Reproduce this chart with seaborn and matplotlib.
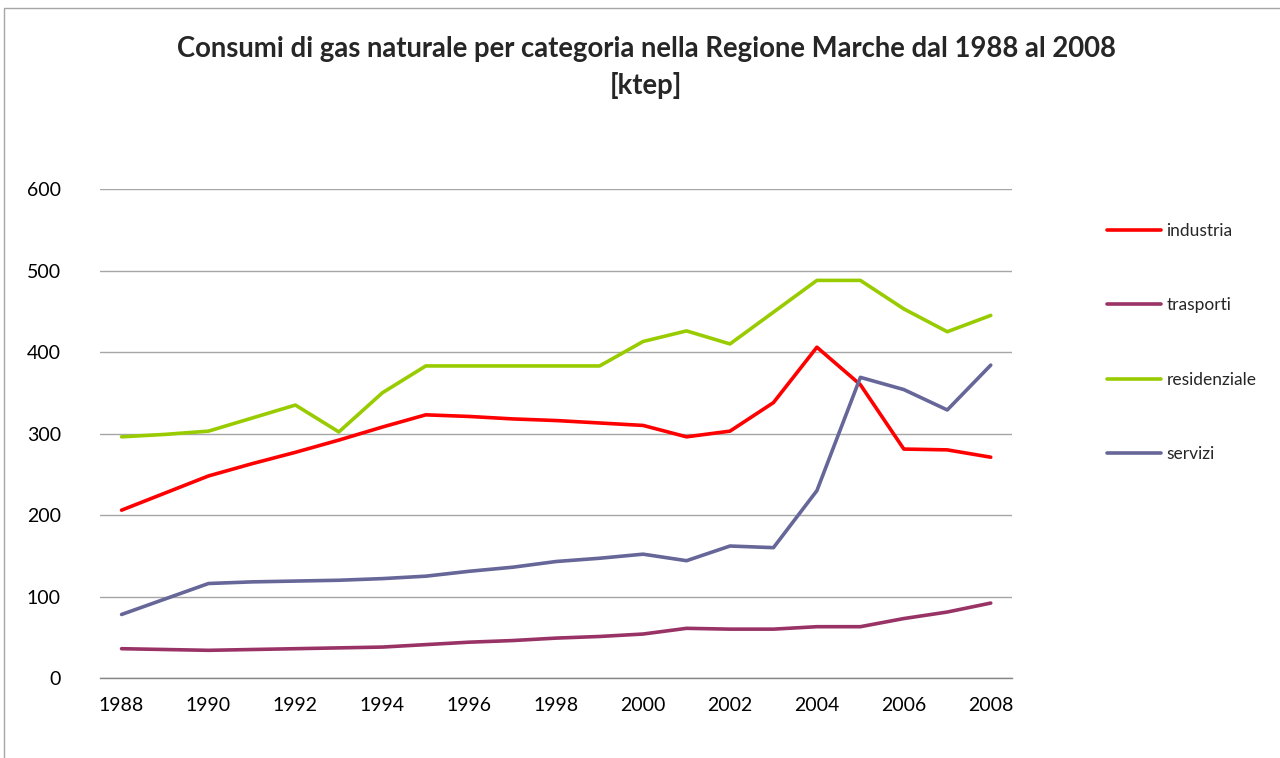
import pandas as pd
import matplotlib.pyplot as plt
import seaborn as sns
from matplotlib.patches import Rectangle

anni = list(range(1988, 2009))
industria = [206, 227, 248, 263, 277, 292, 308, 323, 321, 318, 316, 313, 310, 296, 303, 338, 406, 360, 281, 280, 271]
trasporti = [36, 35, 34, 35, 36, 37, 38, 41, 44, 46, 49, 51, 54, 61, 60, 60, 63, 63, 73, 81, 92]
residenziale = [296, 299, 303, 319, 335, 302, 350, 383, 383, 383, 383, 383, 413, 426, 410, 449, 488, 488, 453, 425, 445]
servizi = [78, 97, 116, 118, 119, 120, 122, 125, 131, 136, 143, 147, 152, 144, 162, 160, 230, 369, 354, 329, 384]

categorie = ["industria", "trasporti", "residenziale", "servizi"]
colori = ["#ff0000", "#993366", "#99cc00", "#666699"]

df = pd.DataFrame({
    "anno": anni * 4,
    "ktep": industria + trasporti + residenziale + servizi,
    "categoria": sum([[c] * len(anni) for c in categorie], []),
})

sns.set_style("white")
plt.rcParams['font.family'] = ['Lato', 'DejaVu Sans']

fig = plt.figure(figsize=(12.8, 7.58), dpi=100)
ax = fig.add_axes([0.078, 0.1055, 0.713, 0.645])

sns.lineplot(data=df, x="anno", y="ktep", hue="categoria", palette=colori,
             linewidth=2.6, ax=ax, legend=False)

ax.set_xlim(1987.5, 2008.5)
ax.set_ylim(0, 600)
ax.set_xticks(range(1988, 2009, 2))
ax.set_yticks(range(0, 601, 100))
ax.tick_params(axis='both', length=0, labelsize=14, colors='black')
ax.tick_params(axis='x', pad=14)
ax.tick_params(axis='y', pad=28)
ax.set_xlabel("")
ax.set_ylabel("")
ax.yaxis.grid(True, color="#a6a6a6", linewidth=1)
ax.set_axisbelow(True)
for s in ["top", "right", "left"]:
    ax.spines[s].set_visible(False)
ax.spines["bottom"].set_color("#868686")
ax.spines["bottom"].set_linewidth(1)

# legenda
handles = [plt.Line2D([], [], color=c, linewidth=2.6) for c in colori]
fig.legend(handles, categorie, loc="upper left", bbox_to_anchor=(0.853, 0.726),
           frameon=False, fontsize=12.5, handlelength=3.1, handletextpad=0.3,
           labelspacing=3.35)

titolo = "Consumi di gas naturale per categoria nella Regione Marche dal 1988 al 2008"
fig.text(0.505, 0.936, titolo, ha="center", va="center", fontsize=19.8, fontweight="bold")
fig.text(0.505, 0.887, "[ktep]", ha="center", va="center", fontsize=19.8, fontweight="bold")

fig.patches.append(Rectangle((0.003, -0.1), 1.2, 1.0894, transform=fig.transFigure,
                             fill=False, edgecolor="#a6a6a6", linewidth=1))

fig.savefig("out.png", dpi=100)
